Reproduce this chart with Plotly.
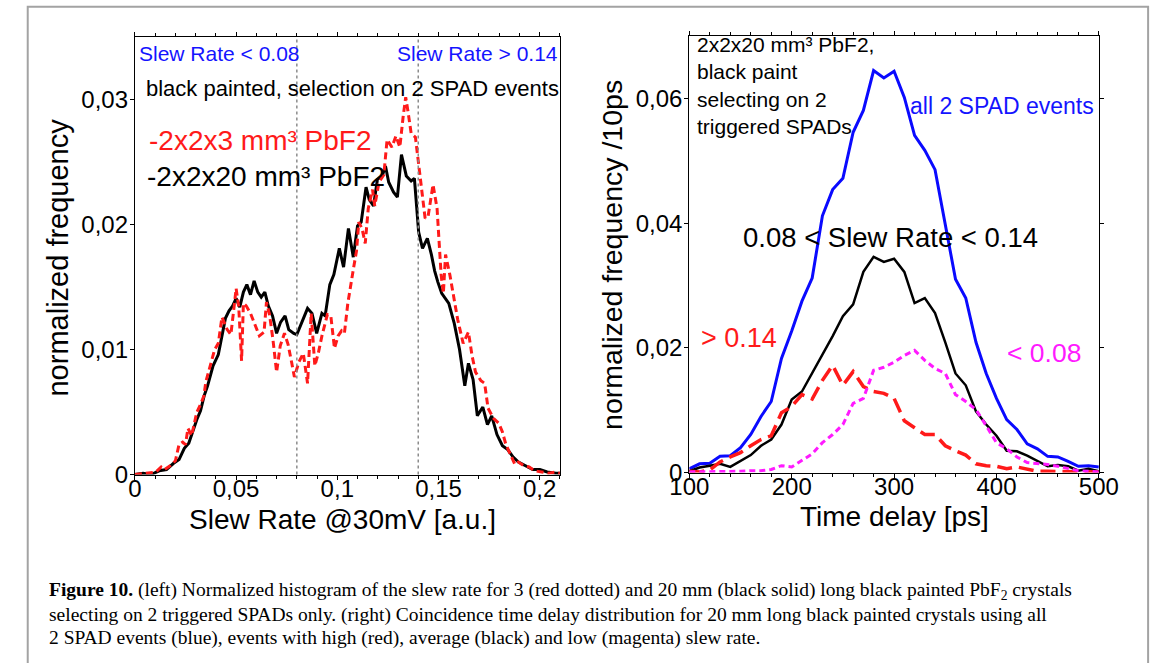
import plotly.graph_objects as go

W, H = 1171, 663

# ---------------- left panel: slew rate histograms ----------------
sr_black_x = [0.000, 0.004, 0.008, 0.012, 0.0156, 0.0191, 0.0218, 0.0244, 0.0266, 0.0288,
              0.0306, 0.0324, 0.0342, 0.0359, 0.0386, 0.0412, 0.0430, 0.0447, 0.0465, 0.0483,
              0.0500, 0.0518, 0.0536, 0.0553, 0.0571, 0.0589, 0.0607, 0.0624, 0.0642, 0.0659,
              0.0680, 0.0700, 0.0720, 0.0742, 0.0760, 0.0785, 0.0800, 0.0827, 0.0853, 0.0875,
              0.0898, 0.0924, 0.0940, 0.0963, 0.0983, 0.1010, 0.1031, 0.1055, 0.1079, 0.1100,
              0.1118, 0.1142, 0.1158, 0.1179, 0.1198, 0.1222, 0.1238, 0.1254, 0.1278, 0.1297,
              0.1317, 0.1341, 0.1365, 0.1381, 0.1402, 0.1421, 0.1445, 0.1465, 0.1481, 0.1497,
              0.1516, 0.1551, 0.1578, 0.1604, 0.1630, 0.1648, 0.1671, 0.1692, 0.1719, 0.1742,
              0.1763, 0.1789, 0.1816, 0.1842, 0.1869, 0.1895, 0.1931, 0.1966, 0.2001, 0.2037,
              0.2080, 0.2100]
sr_black_y = [0.0000, 0.0001, 0.0000, 0.0003, 0.0004, 0.0009, 0.0012, 0.0021, 0.0025, 0.0036,
              0.0044, 0.0051, 0.0063, 0.0071, 0.0087, 0.0096, 0.0112, 0.0125, 0.0131, 0.0135,
              0.0141, 0.0134, 0.0146, 0.0152, 0.0144, 0.0155, 0.0146, 0.0142, 0.0146, 0.0135,
              0.0127, 0.0113, 0.0122, 0.0127, 0.0116, 0.0113, 0.0112, 0.0122, 0.0133, 0.0129,
              0.0113, 0.0129, 0.0127, 0.0152, 0.0160, 0.0181, 0.0166, 0.0197, 0.0174, 0.0199,
              0.0202, 0.0230, 0.0220, 0.0215, 0.0236, 0.0239, 0.0247, 0.0234, 0.0226, 0.0222,
              0.0256, 0.0239, 0.0235, 0.0237, 0.0194, 0.0181, 0.0189, 0.0176, 0.0163, 0.0154,
              0.0145, 0.0137, 0.0121, 0.0100, 0.0071, 0.0089, 0.0076, 0.0047, 0.0054, 0.0040,
              0.0047, 0.0032, 0.0023, 0.0020, 0.0014, 0.0010, 0.0007, 0.0004, 0.0004, 0.0002,
              0.0001, 0.0001]

sr_red_x = [0.000, 0.0103, 0.0130, 0.0147, 0.0174, 0.0200, 0.0218, 0.0236, 0.0250, 0.0262,
            0.0280, 0.0306, 0.0324, 0.0341, 0.0350, 0.0368, 0.0394, 0.0412, 0.0430, 0.0456,
            0.0474, 0.0492, 0.0500, 0.0513, 0.0527, 0.0536, 0.0550, 0.0571, 0.0589, 0.0615,
            0.0638, 0.0650, 0.0665, 0.0682, 0.0700, 0.0718, 0.0739, 0.0757, 0.0774, 0.0788,
            0.0810, 0.0832, 0.0853, 0.0871, 0.0889, 0.0906, 0.0924, 0.0951, 0.0968, 0.0986,
            0.1004, 0.1021, 0.1035, 0.1052, 0.1079, 0.1095, 0.1106, 0.1122, 0.1138, 0.1153,
            0.1174, 0.1185, 0.1206, 0.1230, 0.1246, 0.1270, 0.1290, 0.1309, 0.1325, 0.1338,
            0.1349, 0.1365, 0.1386, 0.1402, 0.1418, 0.1434, 0.1449, 0.1473, 0.1493, 0.1513,
            0.1524, 0.1535, 0.1556, 0.1580, 0.1595, 0.1622, 0.1648, 0.1666, 0.1683, 0.1710,
            0.1728, 0.1745, 0.1772, 0.1798, 0.1816, 0.1833, 0.1860, 0.1878, 0.1895, 0.1922,
            0.1948, 0.1975, 0.2010, 0.2045, 0.2080, 0.2100]
sr_red_y = [0.0000, 0.0002, 0.0006, 0.0004, 0.0007, 0.0011, 0.0024, 0.0026, 0.0024, 0.0037,
            0.0031, 0.0050, 0.0056, 0.0063, 0.0074, 0.0084, 0.0100, 0.0105, 0.0126, 0.0116,
            0.0112, 0.0137, 0.0149, 0.0134, 0.0091, 0.0137, 0.0135, 0.0129, 0.0121, 0.0111,
            0.0114, 0.0138, 0.0128, 0.0108, 0.0082, 0.0103, 0.0113, 0.0104, 0.0090, 0.0078,
            0.0090, 0.0097, 0.0073, 0.0129, 0.0087, 0.0097, 0.0111, 0.0128, 0.0127, 0.0101,
            0.0111, 0.0115, 0.0113, 0.0137, 0.0164, 0.0179, 0.0202, 0.0197, 0.0185, 0.0213,
            0.0228, 0.0215, 0.0234, 0.0240, 0.0268, 0.0262, 0.0271, 0.0262, 0.0286, 0.0302,
            0.0291, 0.0273, 0.0270, 0.0247, 0.0228, 0.0205, 0.0207, 0.0232, 0.0213, 0.0160,
            0.0145, 0.0176, 0.0160, 0.0139, 0.0124, 0.0105, 0.0114, 0.0095, 0.0082, 0.0075,
            0.0073, 0.0053, 0.0045, 0.0041, 0.0034, 0.0024, 0.0015, 0.0008, 0.0010, 0.0007,
            0.0006, 0.0003, 0.0002, 0.0001, 0.0002, 0.0001]

sr_xtick_vals = [0, 0.05, 0.1, 0.15, 0.2]
sr_xtick_text = ["0", "0,05", "0,1", "0,15", "0,2"]
sr_ytick_vals = [0, 0.01, 0.02, 0.03]
sr_ytick_text = ["0", "0,01", "0,02", "0,03"]
sr_cuts = [0.08, 0.14]

# ---------------- right panel: time delay distributions ----------------
td_x = [100, 110, 120, 130, 140, 150, 160, 170, 180, 190, 200, 210, 220, 230, 240, 250,
        260, 270, 280, 290, 300, 310, 320, 330, 340, 350, 360, 370, 380, 390, 400, 410,
        420, 430, 440, 450, 460, 470, 480, 490, 500]
td_all = [0.0006, 0.0014, 0.0015, 0.0026, 0.0027, 0.0040, 0.0061, 0.0090, 0.0114, 0.0183,
          0.0227, 0.0275, 0.0312, 0.0412, 0.0454, 0.0472, 0.0546, 0.0581, 0.0645, 0.0633,
          0.0644, 0.0602, 0.0541, 0.0517, 0.0486, 0.0401, 0.0310, 0.0280, 0.0209, 0.0159,
          0.0119, 0.0085, 0.0069, 0.0046, 0.0038, 0.0026, 0.0025, 0.0018, 0.0010, 0.0011,
          0.0009]
td_mid = [0.0002, 0.0008, 0.0011, 0.0014, 0.0009, 0.0019, 0.0028, 0.0043, 0.0053, 0.0077,
          0.0117, 0.0130, 0.0159, 0.0188, 0.0219, 0.0251, 0.0270, 0.0322, 0.0346, 0.0338,
          0.0343, 0.0322, 0.0272, 0.0280, 0.0256, 0.0209, 0.0159, 0.0140, 0.0098, 0.0077,
          0.0059, 0.0035, 0.0034, 0.0027, 0.0019, 0.0010, 0.0012, 0.0010, 0.0003, 0.0006,
          0.0002]
td_high = [0.0002, 0.0001, 0.0004, 0.0017, 0.0025, 0.0032, 0.0043, 0.0053, 0.0059, 0.0096,
           0.0106, 0.0125, 0.0118, 0.0148, 0.0172, 0.0140, 0.0162, 0.0138, 0.0130, 0.0127,
           0.0119, 0.0083, 0.0072, 0.0061, 0.0061, 0.0043, 0.0035, 0.0028, 0.0014, 0.0011,
           0.0010, 0.0006, 0.0009, 0.0005, 0.0002, 0.0002, 0.0002, 0.0001, 0.0001, 0.0001,
           0.0001]
td_low = [0.0001, 0.0001, 0.0001, 0.0002, 0.0002, 0.0002, 0.0003, 0.0003, 0.0005, 0.0011,
          0.0009, 0.0019, 0.0030, 0.0048, 0.0061, 0.0077, 0.0111, 0.0119, 0.0164, 0.0169,
          0.0177, 0.0188, 0.0196, 0.0180, 0.0167, 0.0159, 0.0125, 0.0114, 0.0101, 0.0075,
          0.0048, 0.0038, 0.0025, 0.0016, 0.0015, 0.0013, 0.0010, 0.0006, 0.0003, 0.0002,
          0.0001]

td_xtick_vals = [100, 200, 300, 400, 500]
td_xtick_text = ["100", "200", "300", "400", "500"]
td_ytick_vals = [0, 0.02, 0.04, 0.06]
td_ytick_text = ["0", "0,02", "0,04", "0,06"]

SANS = "Liberation Sans, Arial, sans-serif"
SERIF = "Liberation Serif, Times New Roman, serif"


def px(x):
    return x / W


def py(y):
    return 1 - y / H


fig = go.Figure()

# left panel traces
fig.add_trace(go.Scatter(x=sr_black_x, y=sr_black_y, mode="lines",
                         line=dict(color="black", width=3), xaxis="x", yaxis="y"))
fig.add_trace(go.Scatter(x=sr_red_x, y=sr_red_y, mode="lines",
                         line=dict(color="#ff1a1a", width=3, dash="7px,4px"), xaxis="x", yaxis="y"))

# right panel traces
fig.add_trace(go.Scatter(x=td_x, y=td_all, mode="lines",
                         line=dict(color="#0a0aff", width=3), xaxis="x2", yaxis="y2"))
fig.add_trace(go.Scatter(x=td_x, y=td_mid, mode="lines",
                         line=dict(color="black", width=2.5), xaxis="x2", yaxis="y2"))
fig.add_trace(go.Scatter(x=td_x, y=td_high, mode="lines",
                         line=dict(color="#ff1a1a", width=3.5, dash="15px,7px"), xaxis="x2", yaxis="y2"))
fig.add_trace(go.Scatter(x=td_x, y=td_low, mode="lines",
                         line=dict(color="#ff1aff", width=3, dash="6px,4px"), xaxis="x2", yaxis="y2"))

tickfont = dict(family=SANS, size=24, color="black")
axis_common = dict(showgrid=False, zeroline=False, showline=True, linecolor="black",
                   linewidth=1.2, ticks="outside", tickcolor="black", tickwidth=1,
                   tickfont=tickfont, fixedrange=True)

fig.update_layout(
    width=W, height=H, margin=dict(l=0, r=0, t=0, b=0),
    paper_bgcolor="white", plot_bgcolor="white", showlegend=False,
    xaxis=dict(domain=[px(119), px(559)], range=[0, 0.21], anchor="y",
               tickmode="array", tickvals=sr_xtick_vals, ticktext=sr_xtick_text,
               ticklen=4, mirror="ticks",
               minor=dict(tickmode="linear", tick0=0, dtick=0.01, ticklen=3,
                          ticks="outside", tickcolor="black", showgrid=False),
               **axis_common),
    yaxis=dict(domain=[py(484), py(38)], range=[0, 0.035], anchor="x",
               tickmode="array", tickvals=sr_ytick_vals, ticktext=sr_ytick_text,
               ticklen=4, mirror=True, **axis_common),
    yaxis3=dict(overlaying="y", side="right", anchor="x", range=[0, 0.035],
                showgrid=False, zeroline=False, showline=False, showticklabels=False,
                ticks="outside", tickcolor="black", ticklen=5, tickmode="array",
                tickvals=sr_ytick_vals,
                minor=dict(tickmode="linear", tick0=0, dtick=0.001, ticklen=3,
                           ticks="outside", tickcolor="black", showgrid=False),
                fixedrange=True),
    xaxis2=dict(domain=[px(693), px(1117)], range=[100, 500], anchor="y2",
                tickmode="array", tickvals=td_xtick_vals, ticktext=td_xtick_text,
                ticklen=4, mirror="ticks",
                minor=dict(tickmode="linear", tick0=100, dtick=20, ticklen=3,
                           ticks="outside", tickcolor="black", showgrid=False),
                **axis_common),
    yaxis2=dict(domain=[py(482), py(37)], range=[0, 0.07], anchor="x2",
                tickmode="array", tickvals=td_ytick_vals, ticktext=td_ytick_text,
                ticklen=4, mirror="ticks", **axis_common),
)

# bring the tick labels close to the axis lines, as in the reference
try:
    fig.update_layout(xaxis_ticklabelstandoff=-11, xaxis2_ticklabelstandoff=-11,
                      yaxis_ticklabelstandoff=-3, yaxis2_ticklabelstandoff=-3)
except Exception:
    pass

shapes = [
    dict(type="rect", xref="paper", yref="paper", x0=px(8), x1=px(1168), y0=-0.2, y1=py(7),
         line=dict(color="#a3a3a3", width=2), fillcolor="rgba(0,0,0,0)", layer="below"),
]
for c in sr_cuts:
    shapes.append(dict(type="line", xref="x", yref="y domain", x0=c, x1=c, y0=0, y1=1,
                       line=dict(color="#8c8c8c", width=1.5, dash="dot")))
fig.update_layout(shapes=shapes)


def ann(text, x, y, size, color="black", xanchor="left", yanchor="middle", angle=0,
        family=SANS, align="left"):
    return dict(text=text, x=px(x), y=py(y), xref="paper", yref="paper",
                xanchor=xanchor, yanchor=yanchor, textangle=angle, showarrow=False,
                align=align, font=dict(family=family, size=size, color=color))


annotations = [
    ann("Slew Rate < 0.08", 121, 55, 21, "#1414ff"),
    ann("Slew Rate > 0.14", 559, 55, 21, "#1414ff", xanchor="right"),
    ann("black painted, selection on 2 SPAD events", 128, 90, 22),
    ann("-2x2x3 mm³ PbF2", 131, 143, 28, "#ff1a1a"),
    ann("-2x2x20 mm³ PbF2", 129, 180, 28),
    ann("Slew Rate @30mV [a.u.]", 334, 530, 28, xanchor="center"),
    ann("normalized frequency", 39, 263, 29, xanchor="center", angle=-90),
    ann("2x2x20 mm³ PbF2,<br>black paint<br>selecting on 2<br>triggered SPADs", 699, 87, 21),
    ann("all 2 SPAD events", 1114, 108, 23, "#1414ff", xanchor="right"),
    ann("0.08 < Slew Rate < 0.14", 747, 242, 27.5),
    ann("> 0.14", 703, 345, 27, "#ff1a1a"),
    ann("< 0.08", 1020, 360, 26.5, "#ff1aff"),
    ann("Time delay [ps]", 905, 527, 28, xanchor="center"),
    ann("normalized frequency /10ps", 613, 260, 28.5, xanchor="center", angle=-90),
    ann("<b>Figure 10.</b> (left) Normalized histogram of the slew rate for 3 (red dotted) and 20 mm "
        "(black solid) long black painted PbF<sub>2</sub> crystals", 28, 603, 19.5, family=SERIF),
    ann("selecting on 2 triggered SPADs only. (right) Coincidence time delay distribution for 20 mm "
        "long black painted crystals using all", 28, 627, 19.5, family=SERIF),
    ann("2 SPAD events (blue), events with high (red), average (black) and low (magenta) slew rate.",
        28, 651, 19.5, family=SERIF),
]
fig.update_layout(annotations=annotations)

fig.write_html("out.html")
